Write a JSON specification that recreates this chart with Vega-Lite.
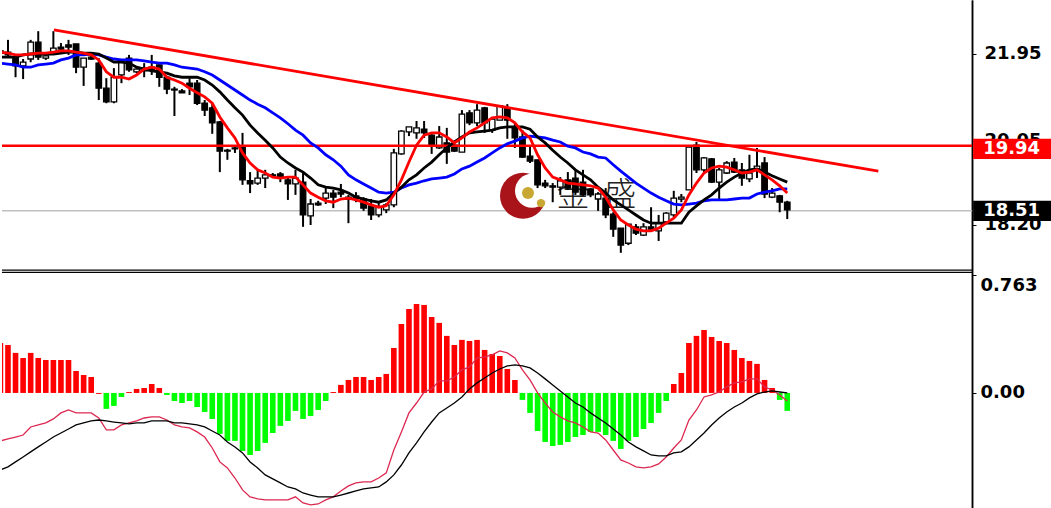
{"$schema":"https://vega.github.io/schema/vega-lite/v6.json","width":1051,"height":508,"padding":0,"autosize":{"type":"fit","contains":"padding"},"background":"white","config":{"view":{"stroke":null}},
"data":{"values":[
{"i":-1,"o":22.02,"h":22.1,"l":21.95,"c":21.97,"r":21.99,"k":21.88,"u":21.75,"d":0.323,"m":-0.31,"s":-0.498},
{"i":0,"o":21.99,"h":22.26,"l":21.88,"c":21.93,"r":21.97,"k":21.88,"u":21.73,"d":0.31,"m":-0.297,"s":-0.478},
{"i":1,"o":21.88,"h":21.88,"l":21.44,"c":21.69,"r":21.93,"k":21.88,"u":21.71,"d":0.259,"m":-0.285,"s":-0.446},
{"i":2,"o":21.69,"h":21.84,"l":21.4,"c":21.77,"r":21.93,"k":21.93,"u":21.66,"d":0.226,"m":-0.272,"s":-0.414},
{"i":3,"o":21.84,"h":22.26,"l":21.77,"c":22.21,"r":21.95,"k":21.95,"u":21.66,"d":0.259,"m":-0.22,"s":-0.381},
{"i":4,"o":22.21,"h":22.45,"l":21.82,"c":21.88,"r":21.97,"k":21.95,"u":21.71,"d":0.226,"m":-0.207,"s":-0.349},
{"i":5,"o":21.86,"h":21.97,"l":21.82,"c":21.91,"r":21.97,"k":21.95,"u":21.73,"d":0.213,"m":-0.194,"s":-0.317},
{"i":6,"o":21.97,"h":22.45,"l":21.93,"c":22.08,"r":21.99,"k":21.95,"u":21.75,"d":0.213,"m":-0.168,"s":-0.285},
{"i":7,"o":22.1,"h":22.19,"l":21.99,"c":22.06,"r":22.02,"k":21.97,"u":21.82,"d":0.213,"m":-0.129,"s":-0.259},
{"i":8,"o":22.15,"h":22.26,"l":21.93,"c":22.1,"r":22.02,"k":21.99,"u":21.86,"d":0.213,"m":-0.11,"s":-0.233},
{"i":9,"o":22.17,"h":22.17,"l":21.53,"c":21.66,"r":21.99,"k":21.99,"u":21.93,"d":0.142,"m":-0.129,"s":-0.207},
{"i":10,"o":21.66,"h":21.86,"l":21.25,"c":21.86,"r":21.97,"k":21.97,"u":21.93,"d":0.116,"m":-0.129,"s":-0.194},
{"i":11,"o":21.88,"h":21.91,"l":21.82,"c":21.84,"r":21.93,"k":21.97,"u":21.95,"d":0.103,"m":-0.129,"s":-0.181},
{"i":12,"o":21.75,"h":21.86,"l":20.94,"c":21.2,"r":21.82,"k":21.95,"u":21.93,"d":-0.006,"m":-0.162,"s":-0.175},
{"i":13,"o":21.2,"h":21.42,"l":20.87,"c":20.9,"r":21.56,"k":21.86,"u":21.88,"d":-0.103,"m":-0.239,"s":-0.181},
{"i":14,"o":20.9,"h":21.64,"l":20.87,"c":21.44,"r":21.44,"k":21.77,"u":21.84,"d":-0.084,"m":-0.239,"s":-0.188},
{"i":15,"o":21.49,"h":21.82,"l":21.31,"c":21.77,"r":21.44,"k":21.77,"u":21.82,"d":-0.026,"m":-0.207,"s":-0.194},
{"i":16,"o":21.86,"h":21.93,"l":21.56,"c":21.6,"r":21.4,"k":21.75,"u":21.82,"d":0.006,"m":-0.194,"s":-0.2},
{"i":17,"o":21.56,"h":21.64,"l":21.53,"c":21.62,"r":21.49,"k":21.66,"u":21.82,"d":0.026,"m":-0.181,"s":-0.194},
{"i":18,"o":21.64,"h":21.75,"l":21.44,"c":21.58,"r":21.62,"k":21.62,"u":21.8,"d":0.032,"m":-0.162,"s":-0.194},
{"i":19,"o":21.66,"h":21.93,"l":21.49,"c":21.6,"r":21.66,"k":21.58,"u":21.77,"d":0.058,"m":-0.155,"s":-0.181},
{"i":20,"o":21.71,"h":21.75,"l":21.23,"c":21.44,"r":21.62,"k":21.56,"u":21.75,"d":0.032,"m":-0.155,"s":-0.181},
{"i":21,"o":21.44,"h":21.47,"l":21.07,"c":21.18,"r":21.44,"k":21.53,"u":21.75,"d":-0.013,"m":-0.175,"s":-0.181},
{"i":22,"o":21.16,"h":21.23,"l":20.59,"c":21.18,"r":21.38,"k":21.47,"u":21.71,"d":-0.052,"m":-0.207,"s":-0.194},
{"i":23,"o":21.14,"h":21.18,"l":21.1,"c":21.1,"r":21.31,"k":21.44,"u":21.66,"d":-0.065,"m":-0.22,"s":-0.194},
{"i":24,"o":21.31,"h":21.42,"l":21.05,"c":21.23,"r":21.2,"k":21.44,"u":21.64,"d":-0.052,"m":-0.226,"s":-0.2},
{"i":25,"o":21.31,"h":21.38,"l":20.83,"c":20.87,"r":21.1,"k":21.44,"u":21.62,"d":-0.091,"m":-0.252,"s":-0.207},
{"i":26,"o":20.87,"h":20.94,"l":20.59,"c":20.72,"r":21.01,"k":21.38,"u":21.56,"d":-0.123,"m":-0.285,"s":-0.22},
{"i":27,"o":20.77,"h":20.87,"l":20.2,"c":20.44,"r":20.87,"k":21.27,"u":21.49,"d":-0.168,"m":-0.356,"s":-0.246},
{"i":28,"o":20.46,"h":20.48,"l":19.36,"c":19.82,"r":20.57,"k":21.12,"u":21.38,"d":-0.265,"m":-0.446,"s":-0.272},
{"i":29,"o":19.84,"h":19.87,"l":19.63,"c":19.82,"r":20.33,"k":20.94,"u":21.27,"d":-0.31,"m":-0.485,"s":-0.317},
{"i":30,"o":19.89,"h":19.95,"l":19.78,"c":19.87,"r":20.11,"k":20.77,"u":21.16,"d":-0.31,"m":-0.55,"s":-0.349},
{"i":31,"o":19.91,"h":20.22,"l":19.08,"c":19.19,"r":19.78,"k":20.61,"u":21.05,"d":-0.375,"m":-0.627,"s":-0.388},
{"i":32,"o":19.17,"h":19.36,"l":18.9,"c":19.1,"r":19.56,"k":20.39,"u":20.94,"d":-0.401,"m":-0.672,"s":-0.446},
{"i":33,"o":19.12,"h":19.41,"l":19.08,"c":19.23,"r":19.41,"k":20.22,"u":20.85,"d":-0.375,"m":-0.685,"s":-0.485},
{"i":34,"o":19.23,"h":19.41,"l":19.01,"c":19.3,"r":19.34,"k":20.06,"u":20.77,"d":-0.323,"m":-0.692,"s":-0.53},
{"i":35,"o":19.3,"h":19.34,"l":19.25,"c":19.28,"r":19.25,"k":19.89,"u":20.66,"d":-0.259,"m":-0.692,"s":-0.556},
{"i":36,"o":19.32,"h":19.36,"l":19.14,"c":19.23,"r":19.23,"k":19.69,"u":20.55,"d":-0.213,"m":-0.692,"s":-0.582},
{"i":37,"o":19.19,"h":19.25,"l":18.75,"c":19.1,"r":19.25,"k":19.56,"u":20.42,"d":-0.181,"m":-0.692,"s":-0.608},
{"i":38,"o":19.1,"h":19.41,"l":18.86,"c":19.23,"r":19.25,"k":19.45,"u":20.28,"d":-0.116,"m":-0.672,"s":-0.621},
{"i":39,"o":19.14,"h":19.34,"l":18.16,"c":18.42,"r":19.08,"k":19.36,"u":20.17,"d":-0.168,"m":-0.711,"s":-0.647},
{"i":40,"o":18.4,"h":18.77,"l":18.2,"c":18.66,"r":18.9,"k":19.23,"u":20.0,"d":-0.149,"m":-0.724,"s":-0.66},
{"i":41,"o":18.68,"h":18.73,"l":18.62,"c":18.64,"r":18.81,"k":19.08,"u":19.89,"d":-0.11,"m":-0.718,"s":-0.672},
{"i":42,"o":18.79,"h":19.01,"l":18.66,"c":18.9,"r":18.73,"k":19.03,"u":19.74,"d":-0.052,"m":-0.692,"s":-0.672},
{"i":43,"o":18.9,"h":18.97,"l":18.57,"c":18.81,"r":18.7,"k":19.01,"u":19.63,"d":0.006,"m":-0.672,"s":-0.672},
{"i":44,"o":18.92,"h":19.1,"l":18.81,"c":18.88,"r":18.77,"k":18.97,"u":19.49,"d":0.052,"m":-0.634,"s":-0.66},
{"i":45,"o":18.81,"h":18.86,"l":18.24,"c":18.77,"r":18.79,"k":18.9,"u":19.3,"d":0.084,"m":-0.601,"s":-0.647},
{"i":46,"o":18.84,"h":18.92,"l":18.7,"c":18.79,"r":18.75,"k":18.81,"u":19.19,"d":0.103,"m":-0.582,"s":-0.634},
{"i":47,"o":18.77,"h":18.81,"l":18.51,"c":18.57,"r":18.7,"k":18.77,"u":19.1,"d":0.103,"m":-0.575,"s":-0.621},
{"i":48,"o":18.62,"h":18.77,"l":18.31,"c":18.42,"r":18.64,"k":18.73,"u":19.01,"d":0.084,"m":-0.575,"s":-0.614},
{"i":49,"o":18.42,"h":18.68,"l":18.37,"c":18.59,"r":18.59,"k":18.7,"u":18.92,"d":0.103,"m":-0.55,"s":-0.608},
{"i":50,"o":18.53,"h":18.68,"l":18.46,"c":18.64,"r":18.62,"k":18.75,"u":18.9,"d":0.123,"m":-0.517,"s":-0.575},
{"i":51,"o":18.64,"h":19.87,"l":18.59,"c":19.78,"r":18.86,"k":18.9,"u":18.92,"d":0.291,"m":-0.369,"s":-0.53},
{"i":52,"o":19.76,"h":20.28,"l":19.74,"c":20.26,"r":19.19,"k":19.03,"u":19.01,"d":0.446,"m":-0.252,"s":-0.466},
{"i":53,"o":20.24,"h":20.35,"l":20.15,"c":20.35,"r":19.58,"k":19.19,"u":19.08,"d":0.543,"m":-0.129,"s":-0.388},
{"i":54,"o":20.22,"h":20.48,"l":20.09,"c":20.33,"r":19.95,"k":19.3,"u":19.12,"d":0.575,"m":-0.065,"s":-0.323},
{"i":55,"o":20.3,"h":20.48,"l":20.11,"c":20.22,"r":20.17,"k":19.45,"u":19.17,"d":0.569,"m":0.006,"s":-0.252},
{"i":56,"o":20.17,"h":20.22,"l":19.76,"c":19.95,"r":20.22,"k":19.58,"u":19.21,"d":0.491,"m":0.026,"s":-0.188},
{"i":57,"o":19.89,"h":20.37,"l":19.87,"c":20.13,"r":20.22,"k":19.74,"u":19.23,"d":0.453,"m":0.078,"s":-0.129},
{"i":58,"o":20.0,"h":20.33,"l":19.54,"c":19.8,"r":20.13,"k":19.89,"u":19.25,"d":0.369,"m":0.078,"s":-0.097},
{"i":59,"o":19.95,"h":20.0,"l":19.8,"c":19.82,"r":20.0,"k":20.02,"u":19.32,"d":0.31,"m":0.103,"s":-0.065},
{"i":60,"o":19.8,"h":20.72,"l":19.8,"c":20.63,"r":20.11,"k":20.13,"u":19.43,"d":0.343,"m":0.149,"s":-0.026},
{"i":61,"o":20.66,"h":20.72,"l":20.39,"c":20.44,"r":20.24,"k":20.22,"u":19.49,"d":0.336,"m":0.168,"s":0.026},
{"i":62,"o":20.44,"h":20.85,"l":20.37,"c":20.72,"r":20.33,"k":20.24,"u":19.58,"d":0.343,"m":0.226,"s":0.065},
{"i":63,"o":20.77,"h":20.79,"l":20.22,"c":20.44,"r":20.44,"k":20.26,"u":19.67,"d":0.278,"m":0.233,"s":0.097},
{"i":64,"o":20.28,"h":20.57,"l":20.22,"c":20.52,"r":20.55,"k":20.28,"u":19.78,"d":0.252,"m":0.246,"s":0.129},
{"i":65,"o":20.5,"h":20.81,"l":20.5,"c":20.81,"r":20.57,"k":20.33,"u":19.89,"d":0.239,"m":0.272,"s":0.155},
{"i":66,"o":20.77,"h":20.85,"l":20.09,"c":20.5,"r":20.55,"k":20.35,"u":19.98,"d":0.155,"m":0.259,"s":0.175},
{"i":67,"o":20.33,"h":20.44,"l":19.89,"c":20.11,"r":20.44,"k":20.35,"u":20.04,"d":0.084,"m":0.226,"s":0.181},
{"i":68,"o":20.13,"h":20.28,"l":19.67,"c":19.69,"r":20.24,"k":20.35,"u":20.11,"d":-0.045,"m":0.149,"s":0.175},
{"i":69,"o":19.71,"h":19.93,"l":19.56,"c":19.6,"r":20.11,"k":20.3,"u":20.15,"d":-0.129,"m":0.084,"s":0.162},
{"i":70,"o":19.63,"h":19.63,"l":19.01,"c":19.08,"r":19.74,"k":20.13,"u":20.13,"d":-0.246,"m":0,"s":0.129},
{"i":71,"o":19.12,"h":19.19,"l":19.01,"c":19.06,"r":19.45,"k":20.0,"u":20.11,"d":-0.317,"m":-0.065,"s":0.091},
{"i":72,"o":19.06,"h":19.12,"l":18.7,"c":19.03,"r":19.25,"k":19.84,"u":20.06,"d":-0.343,"m":-0.123,"s":0.052},
{"i":73,"o":19.03,"h":19.25,"l":18.86,"c":19.17,"r":19.19,"k":19.69,"u":20.02,"d":-0.336,"m":-0.155,"s":0.013},
{"i":74,"o":19.19,"h":19.36,"l":18.97,"c":19.01,"r":19.12,"k":19.56,"u":19.93,"d":-0.317,"m":-0.181,"s":-0.026},
{"i":75,"o":19.23,"h":19.41,"l":18.86,"c":18.92,"r":19.1,"k":19.41,"u":19.89,"d":-0.285,"m":-0.194,"s":-0.065},
{"i":76,"o":19.14,"h":19.41,"l":18.84,"c":18.86,"r":19.08,"k":19.3,"u":19.8,"d":-0.272,"m":-0.22,"s":-0.091},
{"i":77,"o":18.99,"h":19.01,"l":18.81,"c":18.86,"r":19.06,"k":19.19,"u":19.76,"d":-0.252,"m":-0.252,"s":-0.129},
{"i":78,"o":18.77,"h":18.92,"l":18.51,"c":18.88,"r":19.01,"k":19.03,"u":19.69,"d":-0.252,"m":-0.259,"s":-0.162},
{"i":79,"o":18.79,"h":19.01,"l":18.35,"c":18.42,"r":18.81,"k":18.9,"u":19.67,"d":-0.272,"m":-0.304,"s":-0.194},
{"i":80,"o":18.44,"h":18.48,"l":17.94,"c":18.11,"r":18.53,"k":18.75,"u":19.52,"d":-0.31,"m":-0.369,"s":-0.233},
{"i":81,"o":18.13,"h":18.13,"l":17.59,"c":17.76,"r":18.31,"k":18.64,"u":19.38,"d":-0.362,"m":-0.433,"s":-0.272},
{"i":82,"o":17.8,"h":18.22,"l":17.76,"c":18.22,"r":18.2,"k":18.53,"u":19.25,"d":-0.31,"m":-0.453,"s":-0.317},
{"i":83,"o":18.16,"h":18.22,"l":17.98,"c":18.02,"r":18.11,"k":18.42,"u":19.12,"d":-0.285,"m":-0.478,"s":-0.349},
{"i":84,"o":17.98,"h":18.24,"l":17.96,"c":18.16,"r":18.07,"k":18.31,"u":19.01,"d":-0.233,"m":-0.485,"s":-0.375},
{"i":85,"o":18.16,"h":18.59,"l":18.09,"c":18.11,"r":18.07,"k":18.24,"u":18.9,"d":-0.194,"m":-0.478,"s":-0.401},
{"i":86,"o":18.07,"h":18.42,"l":17.85,"c":18.24,"r":18.13,"k":18.24,"u":18.81,"d":-0.129,"m":-0.459,"s":-0.407},
{"i":87,"o":18.27,"h":18.48,"l":18.24,"c":18.46,"r":18.24,"k":18.24,"u":18.73,"d":-0.052,"m":-0.414,"s":-0.407},
{"i":88,"o":18.42,"h":18.95,"l":18.37,"c":18.79,"r":18.35,"k":18.24,"u":18.66,"d":0.058,"m":-0.356,"s":-0.388},
{"i":89,"o":18.77,"h":18.88,"l":18.7,"c":18.81,"r":18.53,"k":18.24,"u":18.64,"d":0.129,"m":-0.304,"s":-0.381},
{"i":90,"o":18.97,"h":19.93,"l":18.97,"c":19.91,"r":18.86,"k":18.48,"u":18.66,"d":0.323,"m":-0.175,"s":-0.349},
{"i":91,"o":19.95,"h":20.02,"l":19.34,"c":19.41,"r":19.12,"k":18.62,"u":18.68,"d":0.369,"m":-0.11,"s":-0.304},
{"i":92,"o":19.41,"h":19.69,"l":19.36,"c":19.67,"r":19.34,"k":18.75,"u":18.73,"d":0.407,"m":-0.026,"s":-0.259},
{"i":93,"o":19.65,"h":19.67,"l":19.12,"c":19.14,"r":19.45,"k":18.86,"u":18.75,"d":0.362,"m":-0.013,"s":-0.207},
{"i":94,"o":19.14,"h":19.45,"l":18.75,"c":19.41,"r":19.49,"k":19.01,"u":18.75,"d":0.336,"m":0.006,"s":-0.162},
{"i":95,"o":19.34,"h":19.6,"l":19.32,"c":19.56,"r":19.47,"k":19.14,"u":18.75,"d":0.323,"m":0.039,"s":-0.123},
{"i":96,"o":19.58,"h":19.67,"l":19.34,"c":19.36,"r":19.41,"k":19.25,"u":18.77,"d":0.278,"m":0.065,"s":-0.091},
{"i":97,"o":19.41,"h":19.56,"l":19.06,"c":19.23,"r":19.34,"k":19.34,"u":18.79,"d":0.226,"m":0.071,"s":-0.065},
{"i":98,"o":19.21,"h":19.74,"l":19.14,"c":19.34,"r":19.36,"k":19.41,"u":18.79,"d":0.207,"m":0.091,"s":-0.032},
{"i":99,"o":19.41,"h":19.89,"l":19.23,"c":19.49,"r":19.41,"k":19.43,"u":18.88,"d":0.188,"m":0.091,"s":-0.006},
{"i":100,"o":19.56,"h":19.69,"l":18.79,"c":18.88,"r":19.3,"k":19.36,"u":18.92,"d":0.084,"m":0.039,"s":0.006},
{"i":101,"o":18.81,"h":19.01,"l":18.79,"c":18.9,"r":19.19,"k":19.28,"u":18.95,"d":0.032,"m":0.019,"s":0.013},
{"i":102,"o":18.84,"h":18.86,"l":18.48,"c":18.7,"r":19.06,"k":19.21,"u":18.99,"d":-0.045,"m":-0.013,"s":0.006},
{"i":103,"o":18.7,"h":18.73,"l":18.33,"c":18.53,"r":18.9,"k":19.14,"u":18.99,"d":-0.116,"m":-0.052,"s":0}
]},
"encoding":{"x":{"field":"i","type":"quantitative","axis":null,"scale":{"domain":[-0.79,137.86],"nice":false,"zero":false,"padding":0}}},
"layer":[
{"layer":[
{"data":{"values":[{"i":-0.79,"i2":127.44,"p":18.51}]},"mark":{"type":"rule","color":"#c0c0c0","strokeWidth":1.5},"encoding":{"x2":{"field":"i2"},"y":{"field":"p","type":"quantitative","title":null,"scale":{"domain":[11.994,23.134],"nice":false,"zero":false},"axis":{"orient":"right","offset":-79,"values":[21.95,20.05,18.2],"format":".2f","grid":false,"title":null,"domainColor":"#000","domainWidth":1.5,"tickColor":"#000","tickSize":4,"labelColor":"#000","labelFont":"DejaVu Sans","labelFontWeight":"bold","labelFontSize":18,"labelPadding":8}}}},
{"data":{"values":[{"i":68.07,"p":18.84}]},"mark":{"type":"point","filled":true,"color":"#a8141a","size":2116,"opacity":1},"encoding":{"y":{"field":"p","type":"quantitative","title":null}}},
{"data":{"values":[{"i":69.26,"p":18.95}]},"mark":{"type":"point","filled":true,"color":"#ffffff","size":1156,"opacity":1},"encoding":{"y":{"field":"p","type":"quantitative","title":null}}},
{"data":{"values":[{"i":68.73,"p":18.9}]},"mark":{"type":"point","filled":true,"color":"#c8a832","size":144,"opacity":1},"encoding":{"y":{"field":"p","type":"quantitative","title":null}}},
{"data":{"values":[{"i":70.45,"p":18.68}]},"mark":{"type":"point","filled":true,"color":"#c8a832","size":70,"opacity":1},"encoding":{"y":{"field":"p","type":"quantitative","title":null}}},
{"data":{"values":[{"i":74.67,"p":18.84,"t":"金"},{"i":80.87,"p":18.84,"t":"盛"}]},"mark":{"type":"text","font":"Noto Sans CJK SC","fontSize":33,"fontWeight":300,"color":"#222222","baseline":"middle","align":"center"},"encoding":{"y":{"field":"p","type":"quantitative","title":null},"text":{"field":"t"}}},
{"mark":{"type":"rule","color":"#000","strokeWidth":2,"clip":true},"encoding":{"y":{"field":"h","type":"quantitative","title":null},"y2":{"field":"l"}}},
{"mark":{"type":"bar","orient":"vertical","size":5.5,"stroke":"#000","strokeWidth":1.3,"clip":true},"encoding":{"y":{"field":"o","type":"quantitative","title":null},"y2":{"field":"c"},"fill":{"condition":{"test":"datum.c>datum.o","value":"#ffffff"},"value":"#000000"}}},
{"data":{"values":[{"i":-0.79,"i2":127.44,"p":19.94}]},"mark":{"type":"rule","color":"#ff0000","strokeWidth":2.5},"encoding":{"x2":{"field":"i2"},"y":{"field":"p","type":"quantitative","title":null}}},
{"data":{"values":[{"i":6.07,"p":22.48},{"i":115.04,"p":19.38}]},"mark":{"type":"line","color":"#ff0000","strokeWidth":2.8},"encoding":{"y":{"field":"p","type":"quantitative","title":null}}},
{"mark":{"type":"line","color":"#0000ff","strokeWidth":2.8,"clip":true},"encoding":{"y":{"field":"u","type":"quantitative","title":null}}},
{"mark":{"type":"line","color":"#000000","strokeWidth":2.8,"clip":true},"encoding":{"y":{"field":"k","type":"quantitative","title":null}}},
{"mark":{"type":"line","color":"#ff0000","strokeWidth":2.8,"clip":true},"encoding":{"y":{"field":"r","type":"quantitative","title":null}}},
{"data":{"values":[{"i":-0.79,"i2":127.44,"p":17.21},{"i":-0.79,"i2":127.44,"p":17.16}]},"mark":{"type":"rule","color":"#000","strokeWidth":1.4},"encoding":{"x2":{"field":"i2"},"y":{"field":"p","type":"quantitative","title":null}}},
{"data":{"values":[{"i":127.57,"i2":137.86,"p":20.09,"p2":19.65}]},"mark":{"type":"rect","color":"#ff0000"},"encoding":{"x2":{"field":"i2"},"y":{"field":"p","type":"quantitative","title":null},"y2":{"field":"p2"}}},
{"data":{"values":[{"i":127.57,"i2":137.86,"p":18.73,"p2":18.29}]},"mark":{"type":"rect","color":"#000000"},"encoding":{"x2":{"field":"i2"},"y":{"field":"p","type":"quantitative","title":null},"y2":{"field":"p2"}}},
{"data":{"values":[{"i":128.9,"p":19.87,"t":"19.94"},{"i":128.9,"p":18.51,"t":"18.51"}]},"mark":{"type":"text","font":"DejaVu Sans","fontSize":18,"fontWeight":"bold","color":"#ffffff","align":"left","baseline":"middle"},"encoding":{"y":{"field":"p","type":"quantitative","title":null},"text":{"field":"t"}}}
]},
{"layer":[
{"mark":{"type":"bar","orient":"vertical","size":5.6,"clip":true},"encoding":{"y":{"field":"d","type":"quantitative","title":null,"scale":{"domain":[-0.744,2.541],"nice":false,"zero":false},"axis":{"orient":"right","offset":-79,"values":[0.763,0],"labelExpr":"datum.value>0.5?'0.763':'0.00'","grid":false,"title":null,"domainColor":"#000","domainWidth":1.5,"tickColor":"#000","tickSize":4,"labelColor":"#000","labelFont":"DejaVu Sans","labelFontWeight":"bold","labelFontSize":18,"labelPadding":4,"labelOffset":{"condition":{"test":"datum.value>0.5","value":11},"value":0}}},"color":{"condition":{"test":"datum.d>-0.01","value":"#ff0000"},"value":"#00ff00"}}},
{"mark":{"type":"line","color":"#dc2850","strokeWidth":1.3,"clip":true},"encoding":{"y":{"field":"m","type":"quantitative","title":null}}},
{"mark":{"type":"line","color":"#000000","strokeWidth":1.3,"clip":true},"encoding":{"y":{"field":"s","type":"quantitative","title":null}}}
]}
],
"resolve":{"scale":{"y":"independent"}}}
